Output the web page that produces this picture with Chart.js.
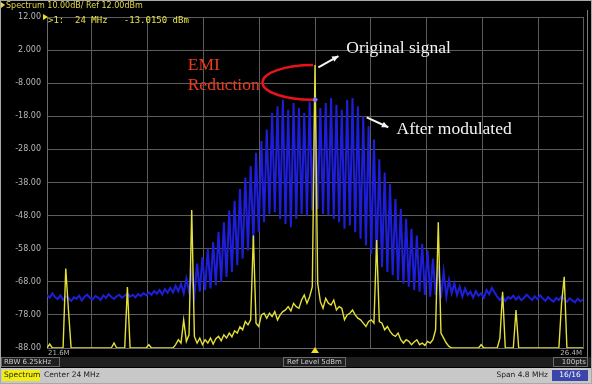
<!DOCTYPE html>
<html>
<head>
<meta charset="utf-8">
<script src="https://cdn.jsdelivr.net/npm/chart.js@4.4.1/dist/chart.umd.min.js"></script>
<style>
  html, body { margin: 0; padding: 0; background: #000; }
  #wrap { position: relative; width: 592px; height: 384px; }
</style>
</head>
<body>
<div id="wrap"><canvas id="spectrum"></canvas></div>
<script>
// sweep: 21.6 .. 26.4 MHz (center 24 MHz, span 4.8 MHz)
const sweepStart = 21.6;
const sweepStop = 26.4;
const sweepPoints = 201;
const xGrid = [21.6, 22, 22.5, 23, 23.5, 24, 24.5, 25, 25.5, 26, 26.4];
const yTicks = [12, 2, -8, -18, -28, -38, -48, -58, -68, -78, -88];

// blue trace, dBm
const afterModulated = [
  -72.0, -72.8, -71.5, -72.6, -73.2, -72.1, -73.5, -72.4, -72.9, -73.8,
  -72.7, -73.1, -72.2, -73.6, -72.5, -71.9, -72.8, -73.4, -72.3, -72.7,
  -73.5, -72.1, -72.9, -71.8, -72.6, -73.2, -72.4, -71.9, -72.8, -72.2,
  -71.6, -72.5, -71.9, -72.7, -71.7, -72.3, -71.4, -72.1, -71.2, -71.9,
  -70.8, -71.6, -70.5, -71.8, -70.2, -71.3, -69.8, -71.2, -69.2, -70.9,
  -68.6, -71.5, -67, -71, -65.5, -72, -62.5, -71, -60.5, -70.5,
  -58, -70, -56, -69, -53, -68, -50, -66.5, -46.5, -65,
  -43.5, -63, -40, -61, -36.5, -58.5, -33, -56, -29, -53,
  -25.5, -50, -22, -47.5, -17, -47, -15, -49, -13, -50.5,
  -16, -51.5, -14, -49, -15.5, -47.5, -17, -48, -13.5, -46.5,
  -13.015, -46, -15.5, -47.5, -14, -48, -12.5, -49, -14.5, -50,
  -16, -52, -13, -51, -12.5, -53, -15, -55, -18, -57,
  -21, -59.5, -25, -61.5, -31, -63.5, -35, -65, -38.5, -66,
  -43, -67.5, -46, -68.5, -49, -69.5, -52, -70.5, -54, -71,
  -56.5, -72, -58.5, -72.5, -61, -72, -63, -73, -65, -72.5,
  -67.5, -71.5, -68.5, -72, -69.5, -72.5, -70, -72, -71, -72.8,
  -70.8, -72.2, -71.5, -72.8, -70.5, -71.8, -69.8, -71.2, -72.5, -73.5,
  -72.4, -73.8, -72.6, -73.1, -72.2, -73.4, -72.5, -73.6, -72.8, -71.9,
  -72.7, -73.5, -72.4, -73.2, -72.1, -73.0, -73.8, -72.6, -73.4, -74.0,
  -72.9, -73.5, -72.4, -73.3, -74.1, -73.0, -73.6, -74.2, -73.1, -73.9,
  -73.4
];

// yellow trace, dBm
const originalSignal = [
  -88, -86.8, -88, -88, -88, -88, -88, -64, -76.5, -88,
  -88, -88, -88, -88, -88, -88, -88, -88, -88, -88,
  -88, -88, -88, -88, -88, -86.5, -88, -88, -88, -88,
  -69.6, -88, -88, -88, -88, -88, -88, -88, -87, -88,
  -88, -88, -88, -88, -88, -88, -88, -88, -87, -85.5,
  -86.5, -79.5, -86, -84, -46.3, -84.5, -86.5, -85, -87, -85.5,
  -86.5, -85, -86.8, -85.2, -84.5, -85.8, -84, -85, -83.5, -84.6,
  -82.8, -83.5, -81.6, -82.5, -80, -81, -79.5, -54, -80.5, -81.5,
  -78, -77.5, -79, -77.5, -78.5, -77, -79.5, -78, -77, -76.5,
  -75.5, -76.8, -74.5, -75.5, -76, -73.5, -72, -74.5, -72.5, -69.5,
  -2.5, -68.5, -74, -76, -73, -74.5, -75, -73.5, -76.5, -75.5,
  -76, -79.5, -78, -77.5, -76.5, -78, -79, -79.5, -80.5, -81.5,
  -80, -79.5, -80.5, -55.4, -80, -80.5, -82.5, -81.5, -83, -84,
  -84.5, -83.5, -85.5, -86.5, -85.5, -86, -87, -86.2, -85.5, -87,
  -86.5, -87.2, -86, -86.5, -85.5, -82.5, -50, -83.5, -85, -86.5,
  -87.5, -88, -88, -88, -88, -88, -88, -88, -88, -88,
  -88, -88, -87, -88, -88, -88, -88, -88, -88, -85,
  -71, -88, -88, -88, -88, -76.5, -88, -88, -88, -88,
  -88, -88, -88, -88, -88, -88, -88, -88, -88, -88,
  -88, -88, -74.5, -66.5, -88, -88, -88, -88, -88, -88,
  -88
];

const centerIdx = 100;
const sweepStep = (sweepStop - sweepStart) / (sweepPoints - 1);
const toPoints = arr => arr.map((v, i) => ({ x: sweepStart + i * sweepStep, y: v }));

function arrow(c, x1, y1, x2, y2) {
  const a = Math.atan2(y2 - y1, x2 - x1);
  c.beginPath();
  c.moveTo(x1, y1);
  c.lineTo(x2, y2);
  c.stroke();
  c.beginPath();
  c.moveTo(x2, y2);
  c.lineTo(x2 - 7 * Math.cos(a - 0.45), y2 - 7 * Math.sin(a - 0.45));
  c.lineTo(x2 - 7 * Math.cos(a + 0.45), y2 - 7 * Math.sin(a + 0.45));
  c.closePath();
  c.fill();
}

const analyzerChrome = {
  id: 'analyzerChrome',
  beforeDraw(chart) {
    const c = chart.ctx;
    c.save();
    c.fillStyle = '#000';
    c.fillRect(0, 0, chart.width, chart.height);
    c.restore();
  },
  afterDatasetsDraw(chart) {
    const c = chart.ctx;
    const xs = chart.scales.x, ys = chart.scales.y;
    const px = f => xs.getPixelForValue(f);
    const py = v => ys.getPixelForValue(v);
    const area = chart.chartArea;
    c.save();

    // marker on blue trace
    const mx = px(sweepStart + centerIdx * sweepStep), my = py(afterModulated[centerIdx]);
    c.fillStyle = '#8080ff';
    c.beginPath();
    c.moveTo(mx, my - 3); c.lineTo(mx + 3, my); c.lineTo(mx, my + 3); c.lineTo(mx - 3, my);
    c.closePath(); c.fill();

    // EMI reduction bracket
    const top = py(originalSignal[centerIdx]), bot = py(afterModulated[centerIdx]);
    const cx = px(24) - 2;
    c.strokeStyle = '#e8141a';
    c.lineWidth = 2.5;
    c.beginPath();
    c.ellipse(cx, (top + bot) / 2, cx - px(23.53), (bot - top) / 2, 0, Math.PI / 2, Math.PI * 1.5);
    c.stroke();

    c.font = '17.5px "Liberation Serif", serif';
    c.textBaseline = 'middle';
    c.fillStyle = '#ec3a1e';
    c.textAlign = 'left';
    c.fillText('EMI', px(22.86), py(-2.5));
    c.fillText('Reduction', px(22.86), py(-8.6));

    c.fillStyle = '#f4f4f4';
    c.strokeStyle = '#f4f4f4';
    c.lineWidth = 2;
    c.fillText('Original signal', px(24.28), py(2.6));
    c.fillText('After modulated', px(24.73), py(-22.1));
    arrow(c, px(24.03), py(-3.2), px(24.21), py(0.2));
    arrow(c, px(24.463), py(-18.3), px(24.656), py(-21.3));

    // marker readout
    c.font = '9px "DejaVu Sans Mono", monospace';
    c.fillStyle = '#e6e04a';
    c.fillText('>1:  24 MHz   ' + afterModulated[centerIdx].toFixed(4) + ' dBm', area.left + 1, area.top + 4);

    // frequency edge labels
    c.font = '7px "DejaVu Sans", sans-serif';
    c.fillStyle = '#b4b4b4';
    c.fillText(sweepStart.toFixed(1) + 'M', area.left + 1, area.bottom + 5);
    c.textAlign = 'right';
    c.fillText(sweepStop.toFixed(1) + 'M', area.right - 1, area.bottom + 5);

    // center marker triangle and ref level marker
    c.fillStyle = '#f0e020';
    const tx = px(24);
    c.beginPath();
    c.moveTo(tx - 4, area.bottom + 5); c.lineTo(tx + 4, area.bottom + 5); c.lineTo(tx, area.bottom - 1);
    c.closePath(); c.fill();
    c.beginPath();
    c.moveTo(area.left - 4, area.top - 3); c.lineTo(area.left + 1, area.top); c.lineTo(area.left - 4, area.top + 3);
    c.closePath(); c.fill();
    c.restore();
  },
  afterDraw(chart) {
    const c = chart.ctx;
    const W = chart.width;
    c.save();
    // header
    c.fillStyle = '#e6d84a';
    c.beginPath();
    c.moveTo(1, 2); c.lineTo(5, 5); c.lineTo(1, 8); c.closePath(); c.fill();
    c.font = '8px "DejaVu Sans", sans-serif';
    c.textBaseline = 'middle';
    c.textAlign = 'left';
    c.fillText('Spectrum 10.00dB/ Ref 12.00dBm', 6, 5.5);

    // status row
    c.fillStyle = '#1e1e1e';
    c.fillRect(0, 357, W, 10);
    c.strokeStyle = '#6a6a6a';
    c.lineWidth = 1;
    c.strokeRect(1.5, 357.5, 58, 9);
    c.strokeRect(283.5, 357.5, 62, 9);
    c.strokeRect(553.5, 357.5, 34, 9);
    c.fillStyle = '#d0d0d0';
    c.font = '7px "DejaVu Sans", sans-serif';
    c.fillText('RBW 6.25kHz', 4, 362.5);
    c.textAlign = 'center';
    c.fillText('Ref Level 5dBm', 314.5, 362.5);
    c.textAlign = 'right';
    c.fillText('100pts', 586, 362.5);

    // bottom bar
    c.fillStyle = '#c8c8c8';
    c.fillRect(0, 368, W, 16);
    c.fillStyle = '#f2ee10';
    c.fillRect(2, 370, 38, 11);
    c.fillStyle = '#3c46a8';
    c.fillRect(552, 370, 36, 11);
    c.font = '7.5px "DejaVu Sans", sans-serif';
    c.textAlign = 'left';
    c.fillStyle = '#202020';
    c.fillText('Spectrum', 4, 375.5);
    c.fillText('Center 24 MHz', 44, 375.5);
    c.textAlign = 'right';
    c.fillText('Span 4.8 MHz', 548, 375.5);
    c.textAlign = 'center';
    c.fillStyle = '#ffffff';
    c.fillText('16/16', 570, 375.5);

    // outer frame
    c.strokeStyle = '#a8a8a8';
    c.strokeRect(0.5, 0.5, W - 1, chart.height - 1);
    c.strokeStyle = '#7a7a7a';
    c.beginPath(); c.moveTo(587.5, 10); c.lineTo(587.5, 357); c.stroke();
    c.restore();
  }
};

new Chart(document.getElementById('spectrum'), {
  type: 'line',
  data: {
    datasets: [
      {
        label: 'Original signal',
        data: toPoints(originalSignal),
        borderColor: 'rgb(228,224,58)',
        borderWidth: 1.4,
        order: 0,
      },
      {
        label: 'After modulated',
        data: toPoints(afterModulated),
        borderColor: 'rgb(30,30,218)',
        borderWidth: 2,
        order: 1,
      },
    ],
  },
  options: {
    animation: false,
    responsive: true,
    maintainAspectRatio: false,
    parsing: false,
    elements: { point: { radius: 0 }, line: { tension: 0 } },
    layout: { padding: { left: 0, top: 17, right: 9, bottom: 36 } },
    plugins: { legend: { display: false }, tooltip: { enabled: false } },
    scales: {
      x: {
        type: 'linear',
        min: sweepStart,
        max: sweepStop,
        afterBuildTicks: s => { s.ticks = xGrid.map(v => ({ value: v })); },
        afterFit: s => { s.height = 0; },
        ticks: { display: false },
        grid: { color: '#5c5c5c', drawTicks: false },
        border: { color: '#6a6a6a' },
      },
      y: {
        min: -88,
        max: 12,
        afterBuildTicks: s => { s.ticks = yTicks.map(v => ({ value: v })); },
        afterFit: s => { s.width = 47; },
        ticks: {
          color: '#b8b8b8',
          padding: 6,
          font: { family: 'DejaVu Sans', size: 8 },
          callback: v => (Math.abs(v) < 10 ? v.toFixed(3) : v.toFixed(2)),
        },
        grid: { color: '#5c5c5c', drawTicks: false },
        border: { color: '#6a6a6a' },
      },
    },
  },
  plugins: [analyzerChrome],
});
</script>
</body>
</html>
